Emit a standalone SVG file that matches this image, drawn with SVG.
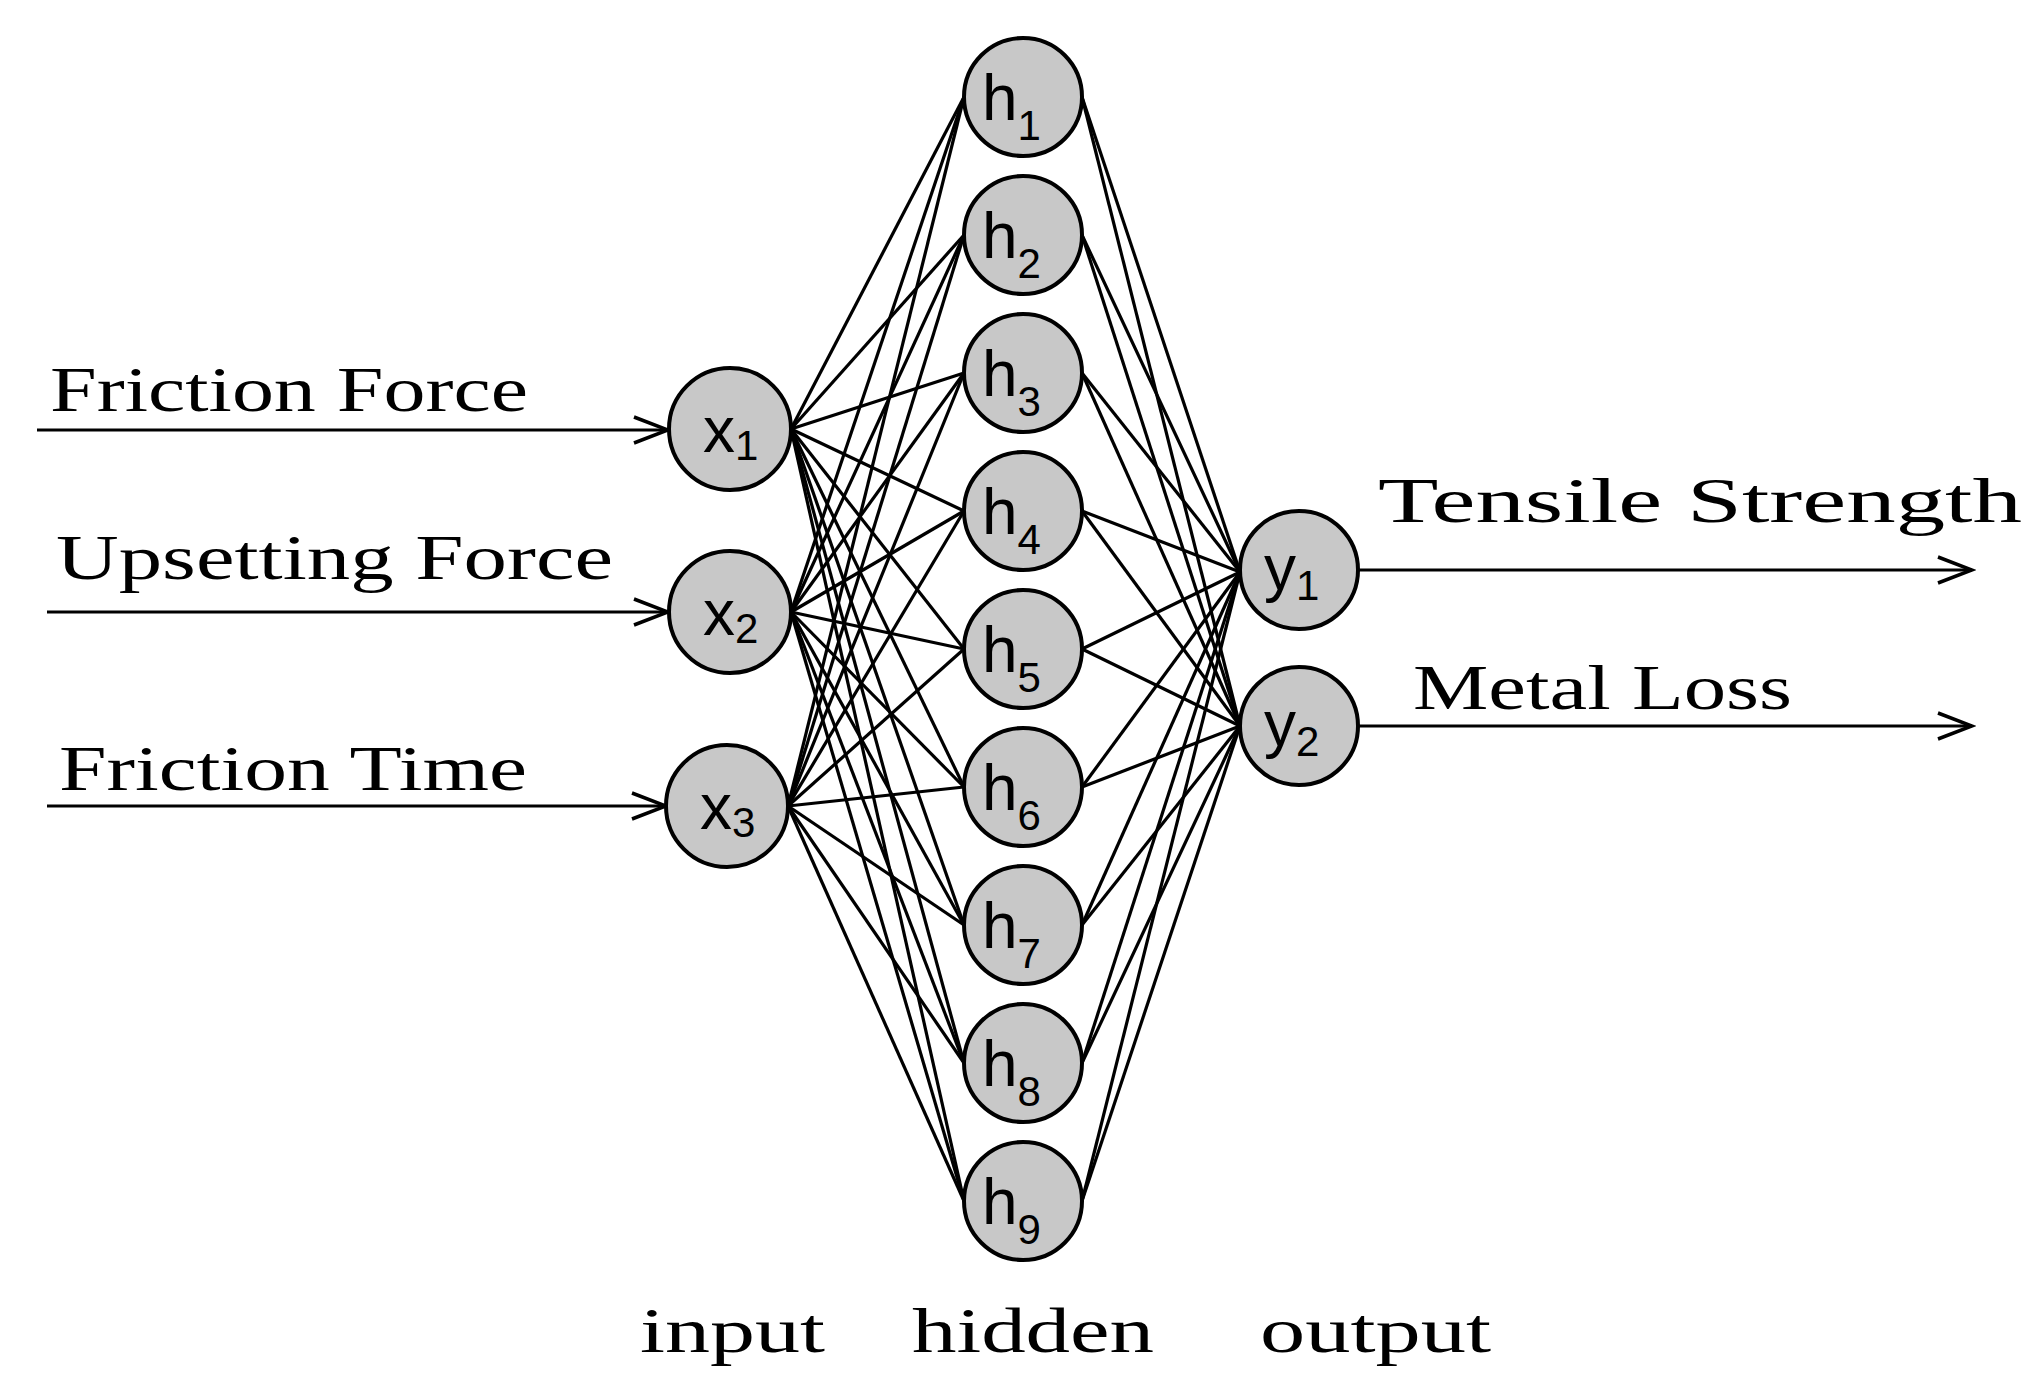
<svg xmlns="http://www.w3.org/2000/svg" width="2038" height="1399" viewBox="0 0 2038 1399">
<defs>
<style>
.n{fill:#c8c8c8;stroke:#000;stroke-width:4}
.nt{font-family:"Liberation Sans",Arial,sans-serif;font-size:64px;fill:#000}
.s{font-size:42px}
.lbl{font-family:"Liberation Serif","Times New Roman",serif;font-size:64px;fill:#000}
.e line{stroke:#000;stroke-width:3.2}
.a{stroke:#000;stroke-width:3.5;fill:none}
</style>
<marker id="ar" markerWidth="40" markerHeight="30" refX="36" refY="15" orient="auto" markerUnits="userSpaceOnUse"><path d="M2,2 L36,15 L2,28" fill="none" stroke="#000" stroke-width="3.5"/></marker>
</defs>
<rect width="2038" height="1399" fill="#fff"/>
<g id="connectors" class="e">
<!-- input to hidden -->
<line x1="791" y1="429" x2="964" y2="97"/><line x1="791" y1="429" x2="964" y2="235"/><line x1="791" y1="429" x2="964" y2="373"/><line x1="791" y1="429" x2="964" y2="511"/><line x1="791" y1="429" x2="964" y2="649"/><line x1="791" y1="429" x2="964" y2="787"/><line x1="791" y1="429" x2="964" y2="925"/><line x1="791" y1="429" x2="964" y2="1063"/><line x1="791" y1="429" x2="964" y2="1201"/>
<line x1="791" y1="612" x2="964" y2="97"/><line x1="791" y1="612" x2="964" y2="235"/><line x1="791" y1="612" x2="964" y2="373"/><line x1="791" y1="612" x2="964" y2="511"/><line x1="791" y1="612" x2="964" y2="649"/><line x1="791" y1="612" x2="964" y2="787"/><line x1="791" y1="612" x2="964" y2="925"/><line x1="791" y1="612" x2="964" y2="1063"/><line x1="791" y1="612" x2="964" y2="1201"/>
<line x1="788" y1="806" x2="964" y2="97"/><line x1="788" y1="806" x2="964" y2="235"/><line x1="788" y1="806" x2="964" y2="373"/><line x1="788" y1="806" x2="964" y2="511"/><line x1="788" y1="806" x2="964" y2="649"/><line x1="788" y1="806" x2="964" y2="787"/><line x1="788" y1="806" x2="964" y2="925"/><line x1="788" y1="806" x2="964" y2="1063"/><line x1="788" y1="806" x2="964" y2="1201"/>
<!-- hidden to output -->
<line x1="1082" y1="97" x2="1240" y2="572"/><line x1="1082" y1="235" x2="1240" y2="572"/><line x1="1082" y1="373" x2="1240" y2="572"/><line x1="1082" y1="511" x2="1240" y2="572"/><line x1="1082" y1="649" x2="1240" y2="572"/><line x1="1082" y1="787" x2="1240" y2="572"/><line x1="1082" y1="925" x2="1240" y2="572"/><line x1="1082" y1="1063" x2="1240" y2="572"/><line x1="1082" y1="1201" x2="1240" y2="572"/>
<line x1="1082" y1="97" x2="1240" y2="726"/><line x1="1082" y1="235" x2="1240" y2="726"/><line x1="1082" y1="373" x2="1240" y2="726"/><line x1="1082" y1="511" x2="1240" y2="726"/><line x1="1082" y1="649" x2="1240" y2="726"/><line x1="1082" y1="787" x2="1240" y2="726"/><line x1="1082" y1="925" x2="1240" y2="726"/><line x1="1082" y1="1063" x2="1240" y2="726"/><line x1="1082" y1="1201" x2="1240" y2="726"/>
<!-- inputs / outputs arrows -->
<line class="a" x1="37" y1="430" x2="668" y2="430" marker-end="url(#ar)"/>
<line class="a" x1="47" y1="612" x2="668" y2="612" marker-end="url(#ar)"/>
<line class="a" x1="47" y1="806" x2="666" y2="806" marker-end="url(#ar)"/>
<line class="a" x1="1358" y1="570" x2="1972" y2="570" marker-end="url(#ar)"/>
<line class="a" x1="1358" y1="726" x2="1972" y2="726" marker-end="url(#ar)"/>
</g>
<g id="x1"><circle class="n" cx="730" cy="429" r="61"/><text class="nt" x="703" y="452">x<tspan class="s" dy="8">1</tspan></text></g>
<g id="x2"><circle class="n" cx="730" cy="612" r="61"/><text class="nt" x="703" y="635">x<tspan class="s" dy="8">2</tspan></text></g>
<g id="x3"><circle class="n" cx="727" cy="806" r="61"/><text class="nt" x="700" y="829">x<tspan class="s" dy="8">3</tspan></text></g>
<g id="h1"><circle class="n" cx="1023" cy="97" r="59"/><text class="nt" x="982" y="120">h<tspan class="s" dy="20">1</tspan></text></g>
<g id="h2"><circle class="n" cx="1023" cy="235" r="59"/><text class="nt" x="982" y="258">h<tspan class="s" dy="20">2</tspan></text></g>
<g id="h3"><circle class="n" cx="1023" cy="373" r="59"/><text class="nt" x="982" y="396">h<tspan class="s" dy="20">3</tspan></text></g>
<g id="h4"><circle class="n" cx="1023" cy="511" r="59"/><text class="nt" x="982" y="534">h<tspan class="s" dy="20">4</tspan></text></g>
<g id="h5"><circle class="n" cx="1023" cy="649" r="59"/><text class="nt" x="982" y="672">h<tspan class="s" dy="20">5</tspan></text></g>
<g id="h6"><circle class="n" cx="1023" cy="787" r="59"/><text class="nt" x="982" y="810">h<tspan class="s" dy="20">6</tspan></text></g>
<g id="h7"><circle class="n" cx="1023" cy="925" r="59"/><text class="nt" x="982" y="948">h<tspan class="s" dy="20">7</tspan></text></g>
<g id="h8"><circle class="n" cx="1023" cy="1063" r="59"/><text class="nt" x="982" y="1086">h<tspan class="s" dy="20">8</tspan></text></g>
<g id="h9"><circle class="n" cx="1023" cy="1201" r="59"/><text class="nt" x="982" y="1224">h<tspan class="s" dy="20">9</tspan></text></g>
<g id="y1"><circle class="n" cx="1299" cy="570" r="59"/><text class="nt" x="1264" y="590">y<tspan class="s" dy="10">1</tspan></text></g>
<g id="y2"><circle class="n" cx="1299" cy="726" r="59"/><text class="nt" x="1264" y="746">y<tspan class="s" dy="10">2</tspan></text></g>
<g id="labels">
<text class="lbl" x="50" y="411" textLength="478" lengthAdjust="spacingAndGlyphs">Friction Force</text>
<text class="lbl" x="56" y="579" textLength="557" lengthAdjust="spacingAndGlyphs">Upsetting Force</text>
<text class="lbl" x="59" y="790" textLength="468" lengthAdjust="spacingAndGlyphs">Friction Time</text>
<text class="lbl" x="1378" y="522" textLength="644" lengthAdjust="spacingAndGlyphs">Tensile Strength</text>
<text class="lbl" x="1413" y="709" textLength="379" lengthAdjust="spacingAndGlyphs">Metal Loss</text>
<text class="lbl" x="640" y="1352" textLength="185" lengthAdjust="spacingAndGlyphs">input</text>
<text class="lbl" x="912" y="1352" textLength="242" lengthAdjust="spacingAndGlyphs">hidden</text>
<text class="lbl" x="1260" y="1352" textLength="231" lengthAdjust="spacingAndGlyphs">output</text>
</g>
</svg>
